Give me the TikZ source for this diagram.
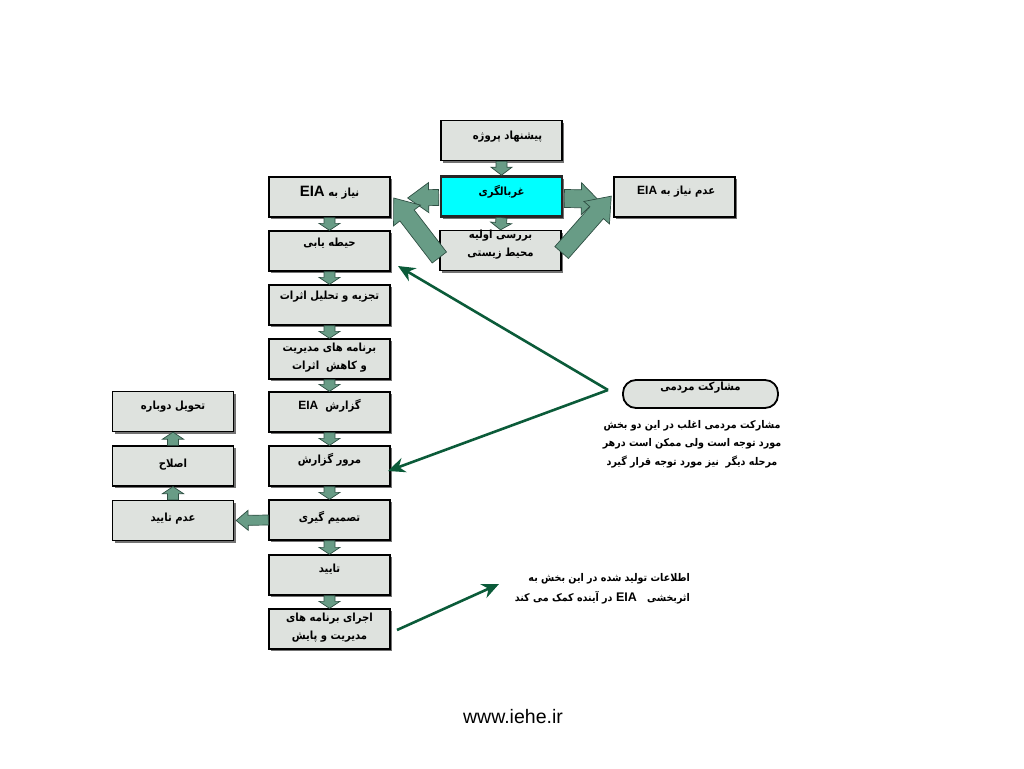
\documentclass[tikz,border=0pt]{standalone}
\usepackage{fontspec}
\usetikzlibrary{calc,arrows.meta}
\TeXXeTstate=1
\newfontfamily\fa[Script=Arabic,FakeStretch=0.9]{DejaVu Sans}
\newfontfamily\lat{Liberation Sans}
\definecolor{boxfill}{HTML}{DEE2DE}
\definecolor{arrfill}{HTML}{689C86}
\definecolor{arrdraw}{HTML}{2E4F43}
\definecolor{lngreen}{HTML}{0B5B39}
\definecolor{cyanbox}{HTML}{00FFFF}
\newcommand\blockarr[5]{%
  \path[barr] let \p1=#1, \p2=#2, \n1={atan2(\y2-\y1,\x2-\x1)}, \n2={veclen(\x2-\x1,\y2-\y1)} in
   [shift={(\p1)}, rotate=\n1]
   (0,#3) -- (\n2-#5,#3) -- (\n2-#5,#4) -- (\n2,0) -- (\n2-#5,-#4) -- (\n2-#5,-#3) -- (0,-#3) -- cycle;}
\tikzset{
  fbox/.style={draw=black, line width=1.3pt, fill=boxfill, minimum width=121pt, minimum height=40pt, inner sep=0pt,
     preaction={fill=black!55, transform canvas={xshift=2pt,yshift=-2pt}}},
  txt/.style={font=\fa\bfseries\fontsize{11.2}{18}\selectfont, inner sep=0pt, align=center},
  barr/.style={fill=arrfill, draw=arrdraw, line width=0.7pt},
  gline/.style={draw=lngreen, line width=2.6pt, -{Stealth[length=17pt,width=15pt]}},
}
\begin{document}
\begin{tikzpicture}[x=1pt,y=-1pt]
\useasboundingbox (0,0) rectangle (1024,768);
% boxes
\node[fbox] (prop) at (501.5,140.5) {};
\node[fbox, fill=cyanbox, draw=black!85, line width=2.6pt] (scr) at (501.5,196.5) {};
\node[fbox] (ini) at (500.5,250.5) {};
\node[fbox] (noeia) at (674.5,197) {};
\node[fbox] (eia) at (329.5,197) {};
\node[fbox] (scope) at (329.5,251) {};
\node[fbox] (anal) at (329.5,305) {};
\node[fbox] (mgmt) at (329.5,359) {};
\node[fbox] (rep) at (329.5,412) {};
\node[fbox] (rev) at (329.5,466) {};
\node[fbox] (dec) at (329.5,520) {};
\node[fbox] (appr) at (329.5,575) {};
\node[fbox] (impl) at (329.5,629) {};
\node[fbox] (resub) at (173,411.5) {};
\node[fbox] (corr) at (173,466) {};
\node[fbox] (rej) at (173,520.5) {};
% small arrows
\blockarr{(prop.south)}{(scr.north)}{5.5}{10.5}{8}
\blockarr{(scr.south)}{(ini.north)}{5.5}{10.5}{7}
\blockarr{(eia.south)}{(scope.north)}{5.5}{10.5}{7}
\blockarr{(scope.south)}{(anal.north)}{5.5}{10.5}{7}
\blockarr{(anal.south)}{(mgmt.north)}{5.5}{10.5}{7}
\blockarr{(mgmt.south)}{(rep.north)}{5.5}{10.5}{7}
\blockarr{(rep.south)}{(rev.north)}{5.5}{10.5}{7}
\blockarr{(rev.south)}{(dec.north)}{5.5}{10.5}{7}
\blockarr{(dec.south)}{(appr.north)}{5.5}{10.5}{7}
\blockarr{(appr.south)}{(impl.north)}{5.5}{10.5}{7}
\blockarr{(corr.north)}{(resub.south)}{5.5}{10.5}{7}
\blockarr{(rej.north)}{(corr.south)}{5.5}{10.5}{7}
\blockarr{(dec.west)}{($(rej.east)+(2,0)$)}{5}{10}{12}
% big arrows
\blockarr{($(scr.west)+(-1,1)$)}{($(eia.east)+(17,1)$)}{8}{15}{21}
\blockarr{($(scr.east)+(1,2)$)}{($(noeia.west)+(-16,2)$)}{9}{16}{16}
\blockarr{($(ini.west)+(0,7)$)}{($(eia.east)+(3,1)$)}{9}{17}{22}
\blockarr{($(ini.east)+(0,2)$)}{($(noeia.west)+(-2,-1)$)}{9}{17}{22}
% green lines
\coordinate (pmL) at (608,390);
\coordinate (tgtA) at (398,266);
\coordinate (tgtB) at (388,471);
\coordinate (impA) at (397,630);
\coordinate (tgtC) at (499,584);
\draw[gline] (pmL) -- (tgtA);
\draw[gline] (pmL) -- (tgtB);
\draw[gline] (impA) -- (tgtC);
% rounded box
\node[draw=black, line width=1.8pt, fill=boxfill, rounded corners=13pt, minimum width=155pt, minimum height=28pt, inner sep=0pt] (pm) at (700.5,394) {};
% texts
\node[txt] (tprop) at ($(prop.center)+(6,-4)$) {\beginR پیشنهاد پروژه\endR};
\node[txt] (tscr) at ($(scr.center)+(0,-5)$) {\beginR غربالگری\endR};
\node[txt] (tini) at ($(ini.center)+(0,-6)$) {\beginR بررسی اولیه\endR\\\beginR محیط زیستی\endR};
\node[txt] (tnoeia) at ($(noeia.center)+(0,-5)$) {\beginR عدم نیاز به \beginL{\lat\bfseries\fontsize{12}{12}\selectfont\ EIA}\endL\endR};
\node[txt] (teia) at ($(eia.center)+(0,-4)$) {\beginR نیاز به \beginL{\lat\bfseries\fontsize{15}{15}\selectfont EIA}\endL\endR};
\node[txt] (tscope) at ($(scope.center)+(0,-8)$) {\beginR حیطه یابی\endR};
\node[txt] (tanal) at ($(anal.center)+(0,-8)$) {\beginR تجزیه و تحلیل اثرات\endR};
\node[txt] (tmgmt) at ($(mgmt.center)+(0,-1)$) {\beginR برنامه های مدیریت\endR\\\beginR و کاهش\ \ اثرات\endR};
\node[txt] (trep) at ($(rep.center)+(0,-6)$) {\beginR گزارش\ \ \beginL{\lat\bfseries\fontsize{12}{12}\selectfont EIA}\endL\endR};
\node[txt] (trev) at ($(rev.center)+(0,-6)$) {\beginR مرور گزارش\endR};
\node[txt] (tdec) at ($(dec.center)+(0,-2)$) {\beginR تصمیم گیری\endR};
\node[txt] (tappr) at ($(appr.center)+(0,-6)$) {\beginR تایید\endR};
\node[txt] (timpl) at ($(impl.center)+(0,-1)$) {\beginR اجرای برنامه های\endR\\\beginR مدیریت\ و\ پایش\endR};
\node[txt] (tresub) at ($(resub.center)+(0,-5)$) {\beginR تحویل دوباره\endR};
\node[txt] (tcorr) at ($(corr.center)+(0,-1)$) {\beginR اصلاح\endR};
\node[txt] (trej) at ($(rej.center)+(0,-2)$) {\beginR عدم تایید\endR};
\node[txt] (tpm) at ($(pm.center)+(0,-6)$) {\beginR مشارکت مردمی\endR};
\node[txt, font=\fa\bfseries\fontsize{10.6}{18.5}\selectfont] (tpara) at (692,444) {\beginR مشارکت مردمی اغلب در این دو بخش\endR\\\beginR مورد توجه است ولی ممکن است درهر\endR\\\beginR مرحله دیگر\ \ نیز مورد توجه قرار گیرد\endR};
\node[txt, font=\fa\bfseries\fontsize{10.6}{20}\selectfont, align=right, anchor=east] (tinfo) at (690,589) {\beginR اطلاعات تولید شده در این بخش به\endR\\\beginR اثربخشی \beginL{\lat\bfseries\fontsize{12.5}{12}\selectfont\ EIA\ \ }\endL در آینده کمک می کند\endR};
\node[font=\lat\fontsize{19.5}{20}\selectfont, inner sep=0pt] (url) at (513,717) {www.iehe.ir};
\end{tikzpicture}
\end{document}
